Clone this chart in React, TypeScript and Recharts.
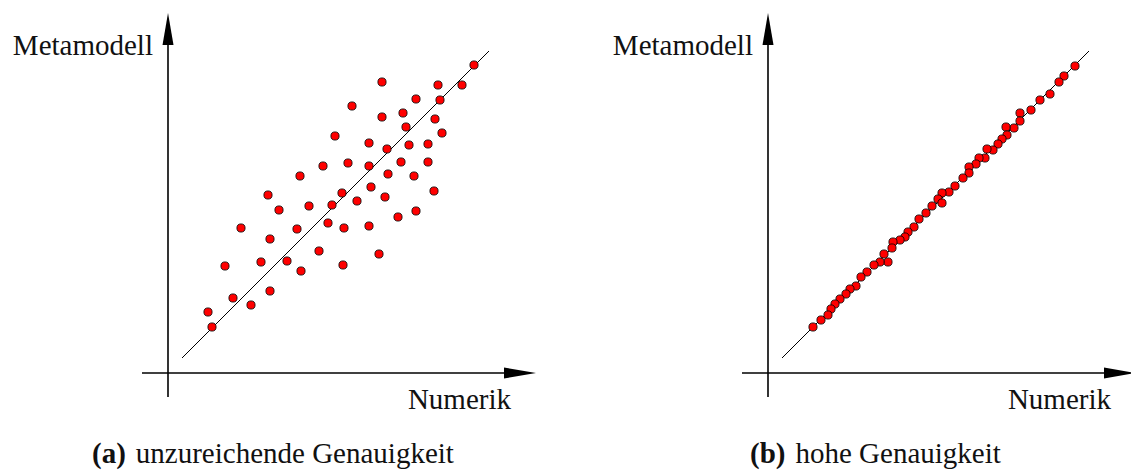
import { ReferenceLine, Scatter, ScatterChart, XAxis, YAxis } from 'recharts';

// (a) unzureichende Genauigkeit – Numerik vs. Metamodell
const numerikA = [
  306, 214, 270, 294, 248, 272, 184, 214, 235, 267, 238, 274, 167, 201, 219, 241, 260, 155,
  180, 201, 233, 260, 132, 220, 246, 100, 203, 174, 217, 266, 111, 141, 164, 189, 248, 230,
  73, 129, 160, 176, 201, 102, 57, 93, 119, 133, 151, 175, 211, 65, 83, 102, 40, 44,
];
const metamodellA = [
  308, 291, 288, 288, 274, 273, 267, 256, 260, 254, 246, 240, 237, 230, 224, 228, 229, 207,
  210, 207, 211, 211, 197, 199, 197, 178, 186, 180, 176, 182, 163, 167, 168, 172, 162, 156,
  145, 144, 150, 145, 147, 134, 107, 111, 112, 102, 122, 108, 119, 75, 68, 82, 61, 46,
];

// (b) hohe Genauigkeit
const numerikB = [
  307, 296, 291, 282, 272, 263, 252, 252, 246, 238, 239, 234, 230, 225, 219, 217, 211, 208,
  201, 201, 195, 187, 181, 174, 170, 174, 164, 158, 151, 146, 140, 137, 132, 125, 124, 116,
  120, 112, 106, 99, 93, 88, 82, 78, 72, 67, 63, 60, 53, 45,
];
const metamodellB = [
  307, 297, 291, 279, 273, 263, 260, 252, 245, 246, 238, 234, 229, 223, 224, 215, 215, 209,
  206, 200, 195, 187, 181, 180, 174, 170, 167, 160, 154, 146, 141, 136, 133, 131, 125, 119,
  111, 111, 108, 101, 96, 87, 84, 79, 74, 69, 64, 58, 53, 46,
];

// axis extents and the ideal line y = x
const xExtent = [-26, 368];
const yExtent = [-24, 360];
const idealLine = [14, 321];

const toPoints = (xs: number[], ys: number[]) => xs.map((x, i) => ({ x, y: ys[i] }));

const FONT = '"Liberation Serif", "Times New Roman", serif';

function Arrow(props: any) {
  const { x1, y1, x2, y2 } = props;
  const len = Math.hypot(x2 - x1, y2 - y1);
  const ux = (x2 - x1) / len;
  const uy = (y2 - y1) / len;
  const head = 32;
  const half = 5.5;
  const bx = x2 - ux * head;
  const by = y2 - uy * head;
  const pts = [
    `${x2},${y2}`,
    `${bx - uy * half},${by + ux * half}`,
    `${bx + uy * half},${by - ux * half}`,
  ].join(' ');
  return (
    <g>
      <line x1={x1} y1={y1} x2={bx} y2={by} stroke="#000" strokeWidth={1.6} />
      <polygon points={pts} fill="#000" />
    </g>
  );
}

function Dot(props: any) {
  const { cx, cy } = props;
  return <circle cx={cx} cy={cy} r={4.1} fill="#ff0000" stroke="#000" strokeWidth={0.8} />;
}

function Panel({ xs, ys }: { xs: number[]; ys: number[] }) {
  return (
    <ScatterChart width={600} height={475} margin={{ top: 13, right: 64, bottom: 78, left: 142 }}>
      <XAxis type="number" dataKey="x" domain={xExtent} hide allowDataOverflow />
      <YAxis type="number" dataKey="y" domain={yExtent} hide allowDataOverflow />
      <ReferenceLine
        segment={[{ x: xExtent[0], y: 0 }, { x: xExtent[1], y: 0 }]}
        ifOverflow="visible"
        shape={Arrow}
      />
      <ReferenceLine
        segment={[{ x: 0, y: yExtent[0] }, { x: 0, y: yExtent[1] }]}
        ifOverflow="visible"
        shape={Arrow}
      />
      <ReferenceLine
        segment={[
          { x: idealLine[0], y: idealLine[0] + 1 },
          { x: idealLine[1], y: idealLine[1] + 1 },
        ]}
        ifOverflow="visible"
        stroke="#000"
        strokeWidth={1}
      />
      <Scatter data={toPoints(xs, ys)} shape={Dot} isAnimationActive={false} />
    </ScatterChart>
  );
}

export default function App() {
  return (
    <div
      style={{
        position: 'absolute',
        left: 0,
        top: 0,
        width: 1131,
        height: 475,
        overflow: 'hidden',
        background: '#fff',
      }}
    >
      <div style={{ position: 'absolute', left: 0, top: 0 }}>
        <Panel xs={numerikA} ys={metamodellA} />
      </div>
      <div style={{ position: 'absolute', left: 600, top: 0 }}>
        <Panel xs={numerikB} ys={metamodellB} />
      </div>
      <svg
        width={1131}
        height={475}
        style={{ position: 'absolute', left: 0, top: 0, pointerEvents: 'none' }}
        fontFamily={FONT}
        fontSize={29}
        fill="#111"
      >
        <text x={153} y={55} textAnchor="end">Metamodell</text>
        <text x={511} y={409} textAnchor="end">Numerik</text>
        <text x={753} y={55} textAnchor="end">Metamodell</text>
        <text x={1111} y={409} textAnchor="end">Numerik</text>
        <text x={92} y={463}>
          <tspan fontWeight="bold">(a)</tspan>
          <tspan dx={10}>unzureichende Genauigkeit</tspan>
        </text>
        <text x={750} y={463}>
          <tspan fontWeight="bold">(b)</tspan>
          <tspan dx={10}>hohe Genauigkeit</tspan>
        </text>
      </svg>
    </div>
  );
}
